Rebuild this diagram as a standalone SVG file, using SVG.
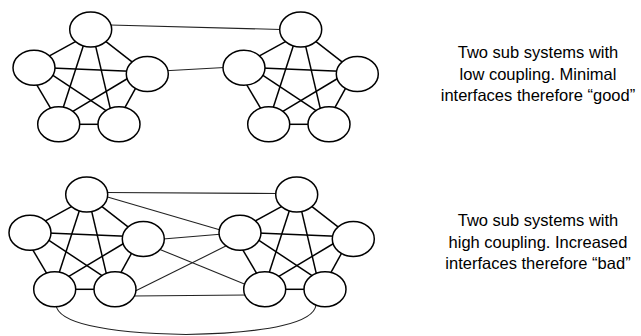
<svg xmlns="http://www.w3.org/2000/svg" width="641" height="336" viewBox="0 0 641 336">
<style>
.n ellipse{fill:#fff;stroke:#000;stroke-width:1.5}
.e{stroke:#000;stroke-width:1.5;fill:none}
.x{stroke:#222;stroke-width:1.1;fill:none}
.t{font-family:"Liberation Sans",Arial,sans-serif;font-size:16.5px;fill:#000;text-anchor:middle}
</style>
<defs>
<g id="k5">
<line x1="76.8" y1="40.8" x2="45.8" y2="57.9"/>
<line x1="104.1" y1="40.2" x2="134.9" y2="64.2"/>
<line x1="83.9" y1="43.9" x2="62.1" y2="111.1"/>
<line x1="95.1" y1="43.8" x2="110.9" y2="111.2"/>
<line x1="51.7" y1="68.1" x2="129.7" y2="71.2"/>
<line x1="35.3" y1="82.3" x2="52" y2="110.7"/>
<line x1="50.7" y1="73.8" x2="108.3" y2="112.2"/>
<line x1="130.1" y1="77" x2="71.6" y2="112.1"/>
<line x1="136.9" y1="85.8" x2="123.1" y2="110.8"/>
<line x1="76.7" y1="124.3" x2="101.3" y2="124.3"/>
</g>
</defs>
<g id="connectors">
<g class="e">
<use href="#k5"/>
<use href="#k5" transform="translate(210,0)"/>
<use href="#k5" transform="translate(-4,165)"/>
<use href="#k5" transform="translate(206,165)"/>
</g>
<line class="x" x1="110" y1="25" x2="281" y2="29.5"/>
<line class="x" x1="166" y1="70.8" x2="224.5" y2="67.5"/>
<line class="x" x1="106" y1="192.5" x2="277" y2="193.5"/>
<line class="x" x1="106.7" y1="196.7" x2="219.5" y2="229.8"/>
<line class="x" x1="163" y1="239" x2="220" y2="234.3"/>
<line class="x" x1="158.7" y1="248.9" x2="246.8" y2="285.1"/>
<line class="x" x1="133.8" y1="291.8" x2="227.8" y2="245.1"/>
<line class="x" x1="133" y1="296" x2="247" y2="295"/>
<path class="x" d="M56,305 C58,322 100,333 186,334.5 C272,333 314,322 316,305"/>
</g>
<g id="n1a" class="n"><ellipse cx="90.7" cy="29.5" rx="21" ry="17.5"/></g>
<g id="n1b" class="n"><ellipse cx="34" cy="67.7" rx="21" ry="17.5"/></g>
<g id="n1c" class="n"><ellipse cx="147.3" cy="74" rx="21" ry="17.5"/></g>
<g id="n1d" class="n"><ellipse cx="58.7" cy="124.3" rx="21" ry="17.5"/></g>
<g id="n1e" class="n"><ellipse cx="119" cy="124.3" rx="21" ry="17.5"/></g>
<g id="n2a" class="n"><ellipse cx="300.7" cy="29.5" rx="21" ry="17.5"/></g>
<g id="n2b" class="n"><ellipse cx="244" cy="67.7" rx="21" ry="17.5"/></g>
<g id="n2c" class="n"><ellipse cx="357.3" cy="74" rx="21" ry="17.5"/></g>
<g id="n2d" class="n"><ellipse cx="268.7" cy="124.3" rx="21" ry="17.5"/></g>
<g id="n2e" class="n"><ellipse cx="329" cy="124.3" rx="21" ry="17.5"/></g>
<g id="n3a" class="n"><ellipse cx="86.7" cy="194.5" rx="21" ry="17.5"/></g>
<g id="n3b" class="n"><ellipse cx="30" cy="232.7" rx="21" ry="17.5"/></g>
<g id="n3c" class="n"><ellipse cx="143.3" cy="239" rx="21" ry="17.5"/></g>
<g id="n3d" class="n"><ellipse cx="54.7" cy="289.3" rx="21" ry="17.5"/></g>
<g id="n3e" class="n"><ellipse cx="115" cy="289.3" rx="21" ry="17.5"/></g>
<g id="n4a" class="n"><ellipse cx="296.7" cy="194.5" rx="21" ry="17.5"/></g>
<g id="n4b" class="n"><ellipse cx="240" cy="232.7" rx="21" ry="17.5"/></g>
<g id="n4c" class="n"><ellipse cx="353.3" cy="239" rx="21" ry="17.5"/></g>
<g id="n4d" class="n"><ellipse cx="264.7" cy="289.3" rx="21" ry="17.5"/></g>
<g id="n4e" class="n"><ellipse cx="325" cy="289.3" rx="21" ry="17.5"/></g>
<g id="label1">
<text class="t" x="538" y="58">Two sub systems with</text>
<text class="t" x="538" y="79.5">low coupling. Minimal</text>
<text class="t" x="538" y="101">interfaces therefore “good”</text>
</g>
<g id="label2">
<text class="t" x="538" y="226">Two sub systems with</text>
<text class="t" x="538" y="247.5">high coupling. Increased</text>
<text class="t" x="538" y="269">interfaces therefore “bad”</text>
</g>
</svg>
